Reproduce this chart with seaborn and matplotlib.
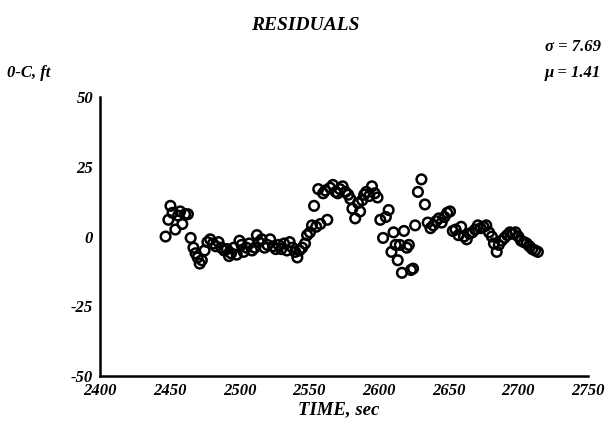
import numpy as np
import pandas as pd
import matplotlib
matplotlib.use("Agg")
import matplotlib.pyplot as plt
import seaborn as sns

# residuals (time in sec, O-C in ft)
time_sec = [
    2447, 2449, 2450.5, 2452, 2454, 2456, 2457.5, 2459, 2461, 2463,
    2465, 2467, 2468.5, 2470, 2471.5, 2473, 2475, 2477, 2479, 2481,
    2483, 2485, 2487, 2489, 2491, 2492.5, 2494, 2496, 2498, 2500,
    2501.5, 2503, 2505, 2507, 2509, 2511, 2512.5, 2514, 2516, 2518,
    2520, 2522, 2524, 2526, 2528, 2530, 2532, 2534, 2536, 2538,
    2540, 2541.5, 2543, 2545, 2547, 2548.5, 2550.5, 2552, 2553.5, 2555,
    2556.5, 2558, 2560, 2561.5, 2563, 2565, 2567, 2569, 2570.5, 2572,
    2574, 2576, 2578, 2579.5, 2581, 2583, 2585, 2586.5, 2588, 2589.5,
    2591, 2593, 2595, 2597, 2599, 2601, 2603, 2605, 2607, 2609,
    2610.5, 2612, 2613.5, 2615, 2616.5, 2618, 2620, 2621.5, 2623, 2624.5,
    2626, 2628, 2630.5, 2633, 2635, 2637, 2639, 2641, 2643, 2645,
    2647, 2649, 2651, 2653, 2655, 2657, 2659, 2661, 2663, 2665,
    2667, 2669, 2671, 2673, 2675, 2677, 2679, 2681, 2682.5, 2684.5,
    2686, 2688, 2690, 2692, 2694, 2696, 2698, 2700, 2702, 2704,
    2706, 2708, 2710, 2712, 2714,
]
o_minus_c = [
    0, 6, 11, 8.5, 2.5, 7.5, 9, 4.5, 8, 8,
    -0.5, -4, -6, -7.5, -9.7, -8.5, -5, -2, -1, -2.5,
    -3.5, -2, -4, -5, -4.5, -7, -6, -4, -6.5, -1.5,
    -3, -5.5, -4, -2.5, -5, -4, 0.5, -2, -1, -4,
    -3, -1, -3.5, -4.5, -3, -4.5, -2.5, -5, -2, -4,
    -5.5, -7.5, -5, -4, -2.5, 0.5, 1.5, 4, 11, 3.5,
    17, 4.5, 15.5, 16.5, 6, 17.5, 18.5, 16, 15.5, 17,
    18, 16, 15, 13.5, 10, 6.5, 12, 9, 13, 15,
    16, 14.5, 18, 15.5, 14, 6, -0.5, 7, 9.5, -5.5,
    1.5, -3, -8.5, -3, -13, 2, -4, -3, -12, -11.5,
    4, 16, 20.5, 11.5, 5, 3, 4, 5.5, 6.5, 5,
    7, 8.5, 9, 2, 2.5, 0.5, 3.5, 0, -1, 1,
    1.5, 2.5, 4, 3, 3.5, 4, 1.5, 0, -2.5, -5.5,
    -3, -1.5, -0.5, 0.5, 1.5, 1, 1.5, 0, -1.5, -2,
    -2.5, -3.5, -4.5, -5, -5.5,
]
x_ticks = [2400, 2450, 2500, 2550, 2600, 2650, 2700, 2750]
y_ticks = [-50, -25, 0, 25, 50]
sigma = 7.69
mu = 1.41

df = pd.DataFrame({"t": time_sec, "oc": o_minus_c})

sns.set_style("white")
plt.rcParams["font.family"] = ["Liberation Serif", "DejaVu Serif"]
plt.rcParams["axes.unicode_minus"] = False

fig = plt.figure(figsize=(6.10, 4.22), dpi=100)
ax = fig.add_axes([0.164, 0.109, 0.800, 0.661])

sns.scatterplot(data=df, x="t", y="oc", ax=ax, marker="o", s=48,
                facecolors="none", edgecolor="black", linewidth=1.8)

ax.set_xlim(2400, 2750)
ax.set_ylim(-50, 50)
ax.set_xticks(x_ticks)
ax.set_yticks(y_ticks)
ax.set_xlabel("")
ax.set_ylabel("")

for s in ["top", "right"]:
    ax.spines[s].set_visible(False)
for s in ["left", "bottom"]:
    ax.spines[s].set_linewidth(1.8)
    ax.spines[s].set_color("black")

ax.tick_params(axis="both", direction="in", length=7, width=1.5,
               colors="black", labelsize=12)
ax.tick_params(axis="x", pad=5)
ax.tick_params(axis="y", pad=5)
for lab in ax.get_xticklabels() + ax.get_yticklabels():
    lab.set_fontweight("bold")
    lab.set_fontstyle("italic")

txt = dict(fontweight="bold", fontstyle="italic", color="black")
fig.text(0.50, 0.94, "RESIDUALS", ha="center", va="center", fontsize=14, **txt)
fig.text(0.012, 0.828, "0-C, ft", ha="left", va="center", fontsize=12, **txt)
fig.text(0.985, 0.888, "\u03c3 = %.2f" % sigma, ha="right", va="center", fontsize=12, **txt)
fig.text(0.985, 0.827, "\u03bc = %.2f" % mu, ha="right", va="center", fontsize=12, **txt)
fig.text(0.555, 0.030, "TIME, sec", ha="center", va="center", fontsize=13.5, **txt)

fig.savefig("out.png", dpi=100)
